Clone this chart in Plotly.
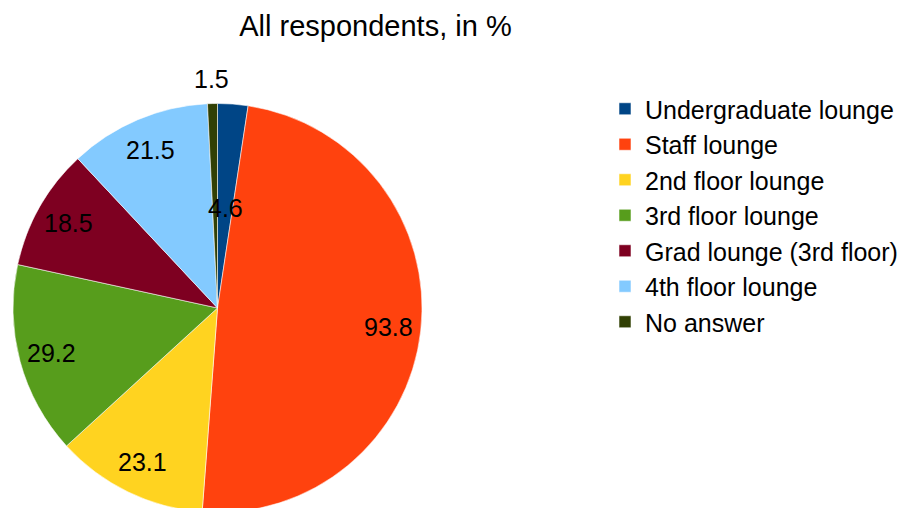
import math
import plotly.graph_objects as go

categories = ["Undergraduate lounge", "Staff lounge", "2nd floor lounge", "3rd floor lounge",
              "Grad lounge (3rd floor)", "4th floor lounge", "No answer"]
values = [4.6, 93.8, 23.1, 29.2, 18.5, 21.5, 1.5]
colors = ["#004586", "#ff420e", "#ffd320", "#579d1c", "#7e0021", "#83caff", "#314004"]
label_outside = [False, False, False, False, False, False, True]

W, H = 906, 508
FONT = "Liberation Sans, Arial, sans-serif"

# pie geometry in figure pixels (margins are zero)
dom_x = [5 / W, 414 / W]
dom_y = [3.5 / H, 412.5 / H]
R = min((dom_x[1] - dom_x[0]) * W, (dom_y[1] - dom_y[0]) * H) / 2
cx = (dom_x[0] + dom_x[1]) / 2 * W
cy = (1 - (dom_y[0] + dom_y[1]) / 2) * H  # from top

fig = go.Figure(go.Pie(
    labels=categories,
    values=values,
    sort=False,
    direction="clockwise",
    rotation=0,
    marker=dict(colors=colors, line=dict(color="rgba(255,255,255,0.55)", width=1)),
    textinfo="none",
    hoverinfo="label+value",
    domain=dict(x=dom_x, y=dom_y),
))

# data labels along each slice bisector
total = sum(values)
cum = 0.0
annotations = []
for v, outside in zip(values, label_outside):
    frac = v / total
    mid = (cum + v / 2) / total * 2 * math.pi
    cum += v
    if outside:
        r = 1.12 * R
    elif frac < 0.05:
        r = 0.49 * R
    else:
        r = 0.84 * R
    px = cx + r * math.sin(mid)
    py = cy - r * math.cos(mid)
    annotations.append(dict(
        x=px / W, y=1 - py / H, xref="paper", yref="paper",
        text=f"{v}", showarrow=False, xanchor="center", yanchor="middle",
        font=dict(family=FONT, size=25, color="black"),
    ))

fig.update_layout(
    width=W, height=H,
    margin=dict(l=0, r=0, t=0, b=0),
    paper_bgcolor="white",
    plot_bgcolor="white",
    font=dict(family=FONT, size=25, color="black"),
    title=dict(text="All respondents, in %", x=367.5 / W, xanchor="center",
               y=1 - 17.5 / H, yanchor="middle",
               font=dict(family=FONT, size=29, color="black")),
    legend=dict(x=597 / W, xanchor="left", y=1 - 78 / H, yanchor="top",
                font=dict(family=FONT, size=25, color="black"), bgcolor="rgba(0,0,0,0)",
                traceorder="normal"),
    showlegend=True,
    annotations=annotations,
)

fig.write_html("out.html")
